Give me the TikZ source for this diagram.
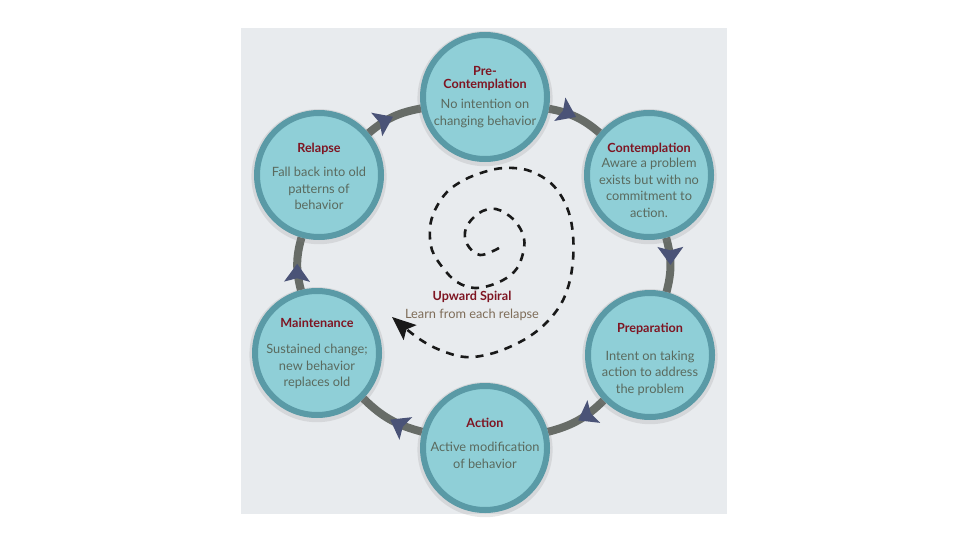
\documentclass[tikz,border=0pt]{standalone}
\usepackage{fontspec}
\setmainfont{Lato}
\usetikzlibrary{arrows.meta,decorations.markings,shadows}

\definecolor{panelgray}{HTML}{E8EBEE}
\definecolor{stagefill}{HTML}{8FCFD7}
\definecolor{stageedge}{HTML}{5A9AA6}
\definecolor{titlered}{HTML}{7E1522}
\definecolor{bodygray}{HTML}{5A6A5E}
\definecolor{ringgray}{HTML}{676C67}
\definecolor{arrowblue}{HTML}{4A5377}
\definecolor{spiraltan}{HTML}{7E6C58}

\pgfdeclarelayer{background}
\pgfsetlayers{background,main}

\tikzstyle{stage} = [circle, minimum size=124pt, inner sep=0pt, draw=stageedge, line width=6pt, fill=stagefill, drop shadow={opacity=0.18, shadow xshift=0pt, shadow yshift=-1.5pt, shadow scale=1.09}]
\tikzstyle{stagetext} = [anchor=north, align=center, inner sep=0pt, text=bodygray, font=\fontsize{12.8}{16.5}\selectfont]
\tikzstyle{ring} = [line width=8pt, draw=ringgray, bend left=15, postaction={decorate}, decoration={markings, mark=at position 0.5 with {\arrow{Stealth[length=18pt,width=26pt,inset=3.5pt,line width=0pt,color=arrowblue]}}}]
\tikzstyle{spiral} = [line width=2.6pt, black!90, dash pattern=on 8pt off 7pt, -{Stealth[length=24pt,width=20pt,inset=5pt,line width=0pt]}]

\newcommand{\stagetitle}[1]{{\fontsize{12.6}{11}\selectfont\bfseries\color{titlered}#1}}

\begin{document}
\begin{tikzpicture}
\useasboundingbox (0,0) rectangle (960pt,-540pt);
\begin{scope}[x=1pt,y=1pt]

% Stages
\node (pre) [stage] at (485,-97) {};
\node (con) [stage] at (649,-175) {};
\node (prep) [stage] at (650,-355) {};
\node (act) [stage] at (485,-448) {};
\node (maint) [stage] at (317,-353) {};
\node (rel) [stage] at (319,-175) {};

% Texts
\node (pretxt) [stagetext] at (485,-66) {\stagetitle{Pre-}\\[-3.5pt]\stagetitle{Contemplation}\\[4pt]No intention on\\changing behavior};
\node (contxt) [stagetext] at (649,-143) {\stagetitle{Contemplation}\\[-1.5pt]Aware a problem\\exists but with no\\commitment to\\action.};
\node (preptxt) [stagetext] at (650,-323) {\stagetitle{Preparation}\\[11pt]Intent on taking\\action to address\\the problem};
\node (acttxt) [stagetext] at (485,-418) {\stagetitle{Action}\\[7.5pt]Active modification\\of behavior};
\node (mainttxt) [stagetext] at (317,-318) {\stagetitle{Maintenance}\\[9.5pt]Sustained change;\\new behavior\\replaces old};
\node (reltxt) [stagetext] at (319,-143) {\stagetitle{Relapse}\\[7.5pt]Fall back into old\\patterns of\\behavior};

% Spiral
\draw [spiral] plot[smooth, tension=0.6] coordinates {(499,-248) (480,-255) (467,-244) (466,-228) (479,-213) (496,-209) (514,-220) (524,-238) (522,-257) (514,-272) (497,-283) (475,-288) (457,-282) (443,-268) (432,-250) (430,-228) (435,-210) (447,-192) (464,-180) (484,-172) (504,-168) (527,-170) (547,-180) (560,-194) (569,-213) (573,-235) (573,-260) (569,-284) (561,-304) (548,-321) (533,-334) (514,-345) (490,-354) (465,-357) (440,-350) (418,-338) (392,-317)};
\node (spiraltxt) [align=center, inner sep=0pt, font=\fontsize{12.8}{16.5}\selectfont] at (472,-306) {\stagetitle{Upward Spiral}\\[1.5pt]{\color{spiraltan}Learn from each relapse}};

% Ring
\begin{pgfonlayer}{background}
\fill [panelgray] (241,-28) rectangle (727,-514);
\draw [ring] (pre) to (con);
\draw [ring] (con) to (prep);
\draw [ring] (prep) to (act);
\draw [ring] (act) to (maint);
\draw [ring] (maint) to (rel);
\draw [ring] (rel) to (pre);
\end{pgfonlayer}

\end{scope}
\end{tikzpicture}
\end{document}
